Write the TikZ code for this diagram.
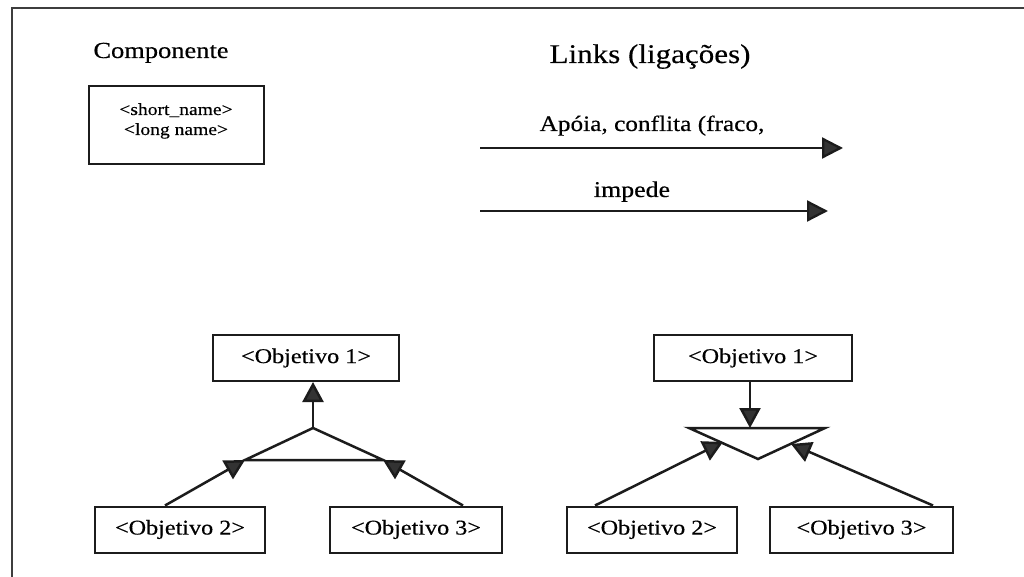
\documentclass[tikz,border=0pt]{standalone}
\usepackage{fontspec}
\setmainfont{Liberation Serif}[FakeStretch=1.15, FakeBold=0.35]
\usetikzlibrary{arrows.meta}
\definecolor{ink}{HTML}{1C1C1C}
\definecolor{headgray}{HTML}{333333}
\newcommand{\fs}[1]{\fontsize{#1}{#1}\selectfont}
\tikzset{
  frameline/.style={draw=ink!85, line width=1.8pt},
  goalbox/.style={draw=ink, line width=2pt, inner sep=0pt, minimum height=46pt, font=\fs{21}},
  link/.style={draw=ink, line width=2.3pt, -{Triangle[length=21pt,width=21pt,fill=headgray]}},
  treeline/.style={draw=ink, line width=2.5pt},
  treearrow/.style={treeline, -{Triangle[length=20pt,width=21pt,fill=headgray]}},
  title/.style={anchor=base, inner sep=0pt},
}
\begin{document}
\begin{tikzpicture}[x=1pt, y=-1pt]
  \useasboundingbox[fill=white] (0,0) rectangle (1024,577);

  % outer frame (top and left edges)
  \coordinate (fTR) at (1024,8);
  \coordinate (fTL) at (12,8);
  \coordinate (fBL) at (12,577);
  \draw[frameline] (fTR) -- (fTL) -- (fBL);

  % legend: component
  \node[title, font=\fs{23}] (comp) at (161,58) {Componente};
  \node[draw=ink, line width=2pt, minimum width=175pt, minimum height=78pt, inner sep=0pt] (cbox) at (176.5,125.5) {};
  \node[title, font=\fs{17}] (sname) at (176,115) {<short\_name>};
  \node[title, font=\fs{17}] (lname) at (176,135) {<long name>};

  % legend: links
  \node[title, font=\fs{27}] (links) at (650,63) {Links (ligações)};
  \node[title, font=\fs{22}] (lab1) at (652,131) {Apóia, conflita (fraco,};
  \node[title, font=\fs{22.5}] (lab2) at (632,197) {impede};
  \coordinate (a1s) at (480,148);
  \coordinate (a1e) at (843,148);
  \coordinate (a2s) at (480,211);
  \coordinate (a2e) at (828,211);
  \draw[link] (a1s) -- (a1e);
  \draw[link] (a2s) -- (a2e);

  % AND decomposition (left)
  \node[goalbox, minimum width=186pt] (o1l) at (306,358) {<Objetivo 1>};
  \node[goalbox, minimum width=170pt] (o2l) at (180,529.5) {<Objetivo 2>};
  \node[goalbox, minimum width=172pt] (o3l) at (416,529.5) {<Objetivo 3>};
  \coordinate (apexL) at (313,428);
  \coordinate (blL) at (245,460);
  \coordinate (brL) at (383,460);
  \draw[treeline, line join=miter] (blL) -- (apexL) -- (brL) -- cycle;
  \draw[treearrow] (apexL) -- (apexL |- o1l.south);
  \draw[treearrow] ([xshift=-15pt]o2l.north) -- (blL);
  \draw[treearrow] ([xshift=47pt]o3l.north) -- (brL);

  % OR decomposition (right)
  \node[goalbox, minimum width=198pt] (o1r) at (753,358) {<Objetivo 1>};
  \node[goalbox, minimum width=170pt] (o2r) at (652,529.5) {<Objetivo 2>};
  \node[goalbox, minimum width=183pt] (o3r) at (861.5,529.5) {<Objetivo 3>};
  \coordinate (tlR) at (689,428);
  \coordinate (trR) at (825,428);
  \coordinate (botR) at (758,459);
  \coordinate (inR) at (750,428);
  \coordinate (hitL) at (723,442);
  \coordinate (hitR) at (791,444);
  \draw[treeline] (tlR) -- (trR) -- (botR) -- cycle;
  \draw[treearrow] ([xshift=-3pt]o1r.south) -- (inR);
  \draw[treearrow] ([xshift=-57pt]o2r.north) -- (hitL);
  \draw[treearrow] ([xshift=71.5pt]o3r.north) -- (hitR);
\end{tikzpicture}
\end{document}
